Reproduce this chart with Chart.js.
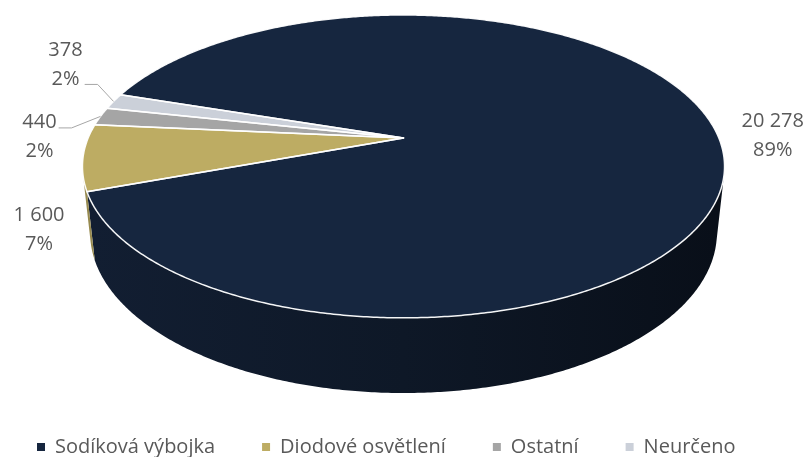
<!DOCTYPE html>
<html>
<head>
<meta charset="utf-8">
<script src="https://cdn.jsdelivr.net/npm/chart.js@4.4.1/dist/chart.umd.min.js"></script>
<style>
html, body { margin: 0; padding: 0; background: #fff; }
</style>
</head>
<body>
<canvas id="chart1" width="807" height="457"></canvas>
<script>
const categories = ["Sodíková výbojka", "Diodové osvětlení", "Ostatní", "Neurčeno"]
const values = [20278, 1600, 440, 378]
const colors = ["#16263f", "#bdac63", "#a5a5a5", "#cbd0d9"]

// where each value label sits, relative to the rim midpoint of its slice
const labelShiftX = [55, -44, -61, -48]
const labelShiftY = [0, 72, 20, -37]
const leaderDy = [null, null, -8.5, 20]

// camera for the tilted cylinder (unit radius)
const TILT = 27.6 * Math.PI / 180
const CAM = 4.714
const DEPTH = 0.24
const STRETCH = 1.726
const STEP = 0.5 * Math.PI / 180

function unitProject(phi, h) {
  const c = Math.cos(TILT), s = Math.sin(TILT)
  const x = Math.cos(phi), d = Math.sin(phi)
  const z = CAM - d * c - h * s
  return { x: x / z, y: (d * s - h * c) / z }
}

function geometry(arc) {
  const c = Math.cos(TILT)
  const halfW = 1 / Math.sqrt(CAM * CAM - c * c)
  const f = arc.outerRadius * STRETCH / halfW
  const top = unitProject(-Math.PI / 2, 0).y
  const bottom = unitProject(Math.PI / 2, -DEPTH).y
  const cx = arc.x
  const cy = arc.y - f * (top + bottom) / 2
  return {
    cx, cy, f,
    pt(phi, h) {
      const u = unitProject(phi, h)
      return { x: cx + f * u.x, y: cy + f * u.y }
    }
  }
}

function shade(hex, k) {
  const n = parseInt(hex.slice(1), 16)
  const r = Math.round(((n >> 16) & 255) * k)
  const g = Math.round(((n >> 8) & 255) * k)
  const b = Math.round((n & 255) * k)
  return `rgb(${r},${g},${b})`
}

function norm(a) {
  const t = 2 * Math.PI
  return ((a % t) + t) % t
}

const pie3d = {
  id: 'pie3d',
  beforeDatasetsDraw(chart) {
    const ctx = chart.ctx
    const arcs = chart.getDatasetMeta(0).data
    const g = geometry(arcs[0])

    // only the front of the wall faces the camera
    const lim = Math.asin(1 / (CAM * Math.cos(TILT)))
    const visFrom = lim, visTo = Math.PI - lim
    const xl = g.pt(visTo, -DEPTH).x, xr = g.pt(visFrom, -DEPTH).x

    ctx.save()
    arcs.forEach((a, i) => {
      const s0 = norm(a.startAngle)
      const s1 = s0 + (a.endAngle - a.startAngle)
      // the slice may wrap past 0, so test it shifted back one turn too
      ;[0, -2 * Math.PI].forEach(off => {
        const from = Math.max(s0 + off, visFrom)
        const to = Math.min(s1 + off, visTo)
        if (to <= from) return
        const n = Math.max(2, Math.ceil((to - from) / STEP))
        ctx.beginPath()
        for (let k = 0; k <= n; k++) {
          const p = g.pt(from + (to - from) * k / n, 0)
          k ? ctx.lineTo(p.x, p.y) : ctx.moveTo(p.x, p.y)
        }
        for (let k = n; k >= 0; k--) {
          const p = g.pt(from + (to - from) * k / n, -DEPTH)
          ctx.lineTo(p.x, p.y)
        }
        ctx.closePath()
        const grad = ctx.createLinearGradient(xl, 0, xr, 0)
        grad.addColorStop(0, shade(colors[i], 0.8))
        grad.addColorStop(0.5, shade(colors[i], 0.62))
        grad.addColorStop(1, shade(colors[i], 0.4))
        ctx.fillStyle = grad
        ctx.fill()
      })
    })

    // top face
    const slicePath = a => {
      const span = a.endAngle - a.startAngle
      const n = Math.max(2, Math.ceil(span / STEP))
      ctx.beginPath()
      ctx.moveTo(g.cx, g.cy)
      for (let k = 0; k <= n; k++) {
        const p = g.pt(a.startAngle + span * k / n, 0)
        ctx.lineTo(p.x, p.y)
      }
      ctx.closePath()
    }
    arcs.forEach((a, i) => {
      slicePath(a)
      ctx.fillStyle = colors[i]
      ctx.fill()
    })
    ctx.strokeStyle = 'rgba(255,255,255,0.95)'
    ctx.lineWidth = 1.5
    ctx.lineJoin = 'round'
    arcs.forEach(a => {
      slicePath(a)
      ctx.stroke()
    })
    ctx.restore()
    return false
  },
  afterDraw(chart) {
    const ctx = chart.ctx
    const arcs = chart.getDatasetMeta(0).data
    const g = geometry(arcs[0])
    const total = values.reduce((s, v) => s + v, 0)
    ctx.save()
    ctx.font = '20px "Open Sans"'
    ctx.fillStyle = '#595959'
    ctx.textAlign = 'center'
    ctx.textBaseline = 'middle'
    arcs.forEach((a, i) => {
      const anchor = g.pt((a.startAngle + a.endAngle) / 2, 0)
      const lx = anchor.x + labelShiftX[i]
      const ly = anchor.y + labelShiftY[i]
      const line1 = values[i].toString().replace(/\B(?=(\d{3})+(?!\d))/g, ' ')
      const line2 = Math.round(values[i] / total * 100) + '%'
      ctx.fillText(line1, lx, ly - 14.5)
      ctx.fillText(line2, lx, ly + 14.5)
      if (leaderDy[i] !== null) {
        const half = Math.max(ctx.measureText(line1).width, ctx.measureText(line2).width) / 2
        const sx = lx + half + 2, sy = ly + leaderDy[i]
        ctx.beginPath()
        ctx.moveTo(sx, sy)
        ctx.lineTo(sx + 13, sy)
        ctx.lineTo(anchor.x, anchor.y)
        ctx.strokeStyle = '#a6a6a6'
        ctx.lineWidth = 1
        ctx.stroke()
      }
    })
    ctx.restore()
  }
}

new Chart(document.getElementById('chart1'), {
  type: 'pie',
  data: {
    labels: categories,
    datasets: [{ data: values, backgroundColor: colors, borderWidth: 0 }]
  },
  options: {
    responsive: false,
    animation: false,
    events: [],
    rotation: 288.2,
    layout: { padding: { top: 18, bottom: -10, left: -10, right: -7 } },
    plugins: {
      legend: {
        position: 'bottom',
        align: 'start',
        labels: {
          usePointStyle: true,
          pointStyle: 'rect',
          boxWidth: 8,
          boxHeight: 8,
          padding: 47,
          color: '#595959',
          font: { family: '"Open Sans"', size: 20 }
        }
      },
      tooltip: { enabled: false }
    }
  },
  plugins: [pie3d]
});
</script>
</body>
</html>
